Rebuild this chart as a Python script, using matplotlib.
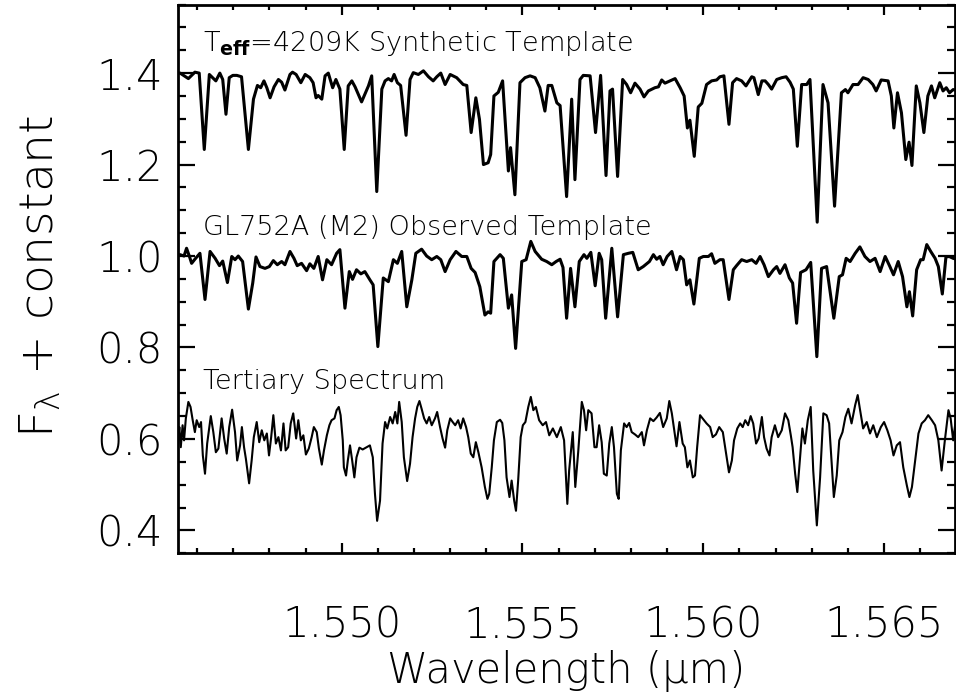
import numpy as np
import matplotlib
matplotlib.use("Agg")
import matplotlib.pyplot as plt
from matplotlib.ticker import MultipleLocator, FormatStrFormatter


# wavelength (micron), flux + offset
synthetic = [
    (1.54547, 1.400), (1.54553, 1.400), (1.54576, 1.388), (1.54594, 1.402), (1.54606, 1.400),
    (1.54620, 1.233), (1.54634, 1.397), (1.54643, 1.390), (1.54652, 1.383), (1.54663, 1.400),
    (1.54671, 1.386), (1.54680, 1.310), (1.54689, 1.390), (1.54699, 1.395), (1.54710, 1.395),
    (1.54723, 1.392), (1.54742, 1.233), (1.54756, 1.343), (1.54767, 1.373), (1.54776, 1.368),
    (1.54785, 1.383), (1.54793, 1.368), (1.54802, 1.346), (1.54813, 1.370), (1.54825, 1.386),
    (1.54834, 1.380), (1.54843, 1.363), (1.54857, 1.397), (1.54864, 1.402), (1.54874, 1.397),
    (1.54887, 1.379), (1.54899, 1.397), (1.54912, 1.390), (1.54921, 1.379), (1.54929, 1.346),
    (1.54935, 1.351), (1.54945, 1.343), (1.54954, 1.394), (1.54963, 1.400), (1.54975, 1.368),
    (1.54984, 1.386), (1.54995, 1.365), (1.55007, 1.233), (1.55018, 1.372), (1.55028, 1.383),
    (1.55037, 1.370), (1.55055, 1.337), (1.55074, 1.372), (1.55083, 1.394), (1.55097, 1.141),
    (1.55111, 1.365), (1.55120, 1.383), (1.55129, 1.388), (1.55138, 1.383), (1.55145, 1.397),
    (1.55154, 1.379), (1.55163, 1.373), (1.55178, 1.264), (1.55189, 1.386), (1.55198, 1.401),
    (1.55212, 1.397), (1.55226, 1.405), (1.55240, 1.392), (1.55253, 1.383), (1.55263, 1.392),
    (1.55274, 1.400), (1.55286, 1.375), (1.55300, 1.397), (1.55318, 1.390), (1.55336, 1.375),
    (1.55346, 1.373), (1.55358, 1.270), (1.55371, 1.346), (1.55381, 1.299), (1.55392, 1.200),
    (1.55405, 1.204), (1.55412, 1.222), (1.55421, 1.350), (1.55433, 1.358), (1.55445, 1.383),
    (1.55461, 1.186), (1.55467, 1.237), (1.55479, 1.134), (1.55493, 1.379), (1.55507, 1.390),
    (1.55521, 1.394), (1.55535, 1.390), (1.55548, 1.368), (1.55562, 1.317), (1.55571, 1.373),
    (1.55581, 1.373), (1.55595, 1.335), (1.55604, 1.329), (1.55622, 1.130), (1.55636, 1.343),
    (1.55645, 1.167), (1.55659, 1.386), (1.55668, 1.395), (1.55687, 1.394), (1.55702, 1.270),
    (1.55716, 1.395), (1.55731, 1.176), (1.55742, 1.361), (1.55749, 1.365), (1.55763, 1.174),
    (1.55777, 1.386), (1.55788, 1.375), (1.55799, 1.357), (1.55811, 1.378), (1.55825, 1.365),
    (1.55836, 1.348), (1.55848, 1.361), (1.55866, 1.368), (1.55876, 1.370), (1.55885, 1.385),
    (1.55894, 1.378), (1.55908, 1.383), (1.55922, 1.388), (1.55936, 1.368), (1.55947, 1.350),
    (1.55956, 1.280), (1.55963, 1.297), (1.55975, 1.218), (1.55986, 1.326), (1.55996, 1.334),
    (1.56009, 1.375), (1.56023, 1.383), (1.56037, 1.385), (1.56046, 1.392), (1.56057, 1.394),
    (1.56071, 1.288), (1.56081, 1.379), (1.56092, 1.388), (1.56106, 1.383), (1.56118, 1.372),
    (1.56134, 1.392), (1.56140, 1.390), (1.56152, 1.353), (1.56162, 1.383), (1.56171, 1.383),
    (1.56180, 1.375), (1.56189, 1.365), (1.56203, 1.386), (1.56217, 1.390), (1.56229, 1.392),
    (1.56240, 1.380), (1.56249, 1.365), (1.56260, 1.240), (1.56272, 1.375), (1.56286, 1.375),
    (1.56295, 1.386), (1.56315, 1.074), (1.56331, 1.375), (1.56345, 1.335), (1.56363, 1.109),
    (1.56382, 1.357), (1.56393, 1.364), (1.56400, 1.357), (1.56414, 1.375), (1.56428, 1.375),
    (1.56442, 1.390), (1.56456, 1.386), (1.56469, 1.375), (1.56478, 1.361), (1.56492, 1.385),
    (1.56511, 1.383), (1.56520, 1.350), (1.56527, 1.280), (1.56537, 1.357), (1.56548, 1.313),
    (1.56560, 1.211), (1.56569, 1.249), (1.56577, 1.198), (1.56589, 1.372), (1.56599, 1.335),
    (1.56610, 1.270), (1.56621, 1.350), (1.56631, 1.372), (1.56640, 1.346), (1.56654, 1.379),
    (1.56663, 1.361), (1.56672, 1.368), (1.56681, 1.357), (1.56691, 1.364), (1.56700, 1.362),
]

observed = [
    (1.54547, 1.000), (1.54553, 1.003), (1.54564, 1.000), (1.54571, 1.017), (1.54579, 0.999),
    (1.54585, 0.984), (1.54594, 0.993), (1.54608, 1.006), (1.54622, 0.905), (1.54636, 1.010),
    (1.54650, 0.995), (1.54662, 0.979), (1.54671, 0.989), (1.54684, 0.942), (1.54696, 0.999),
    (1.54705, 0.992), (1.54714, 1.000), (1.54726, 0.988), (1.54742, 0.884), (1.54754, 0.941),
    (1.54763, 0.998), (1.54774, 0.977), (1.54788, 0.973), (1.54800, 0.977), (1.54811, 0.990),
    (1.54822, 0.981), (1.54834, 0.988), (1.54843, 0.981), (1.54857, 1.010), (1.54868, 0.995),
    (1.54877, 0.979), (1.54889, 0.984), (1.54903, 0.968), (1.54912, 0.983), (1.54923, 0.973),
    (1.54935, 0.999), (1.54947, 0.948), (1.54959, 0.992), (1.54972, 0.981), (1.54986, 1.006),
    (1.54995, 1.014), (1.55009, 0.886), (1.55021, 0.966), (1.55030, 0.949), (1.55041, 0.970),
    (1.55053, 0.961), (1.55064, 0.966), (1.55078, 0.948), (1.55087, 0.937), (1.55100, 0.802),
    (1.55115, 0.952), (1.55129, 0.944), (1.55143, 0.992), (1.55154, 0.984), (1.55166, 1.010),
    (1.55180, 0.889), (1.55194, 0.948), (1.55205, 1.006), (1.55221, 1.015), (1.55235, 1.000),
    (1.55249, 0.992), (1.55263, 0.999), (1.55274, 0.992), (1.55286, 0.966), (1.55300, 0.992),
    (1.55316, 1.010), (1.55332, 0.999), (1.55346, 0.999), (1.55358, 0.973), (1.55369, 0.964),
    (1.55382, 0.933), (1.55396, 0.871), (1.55405, 0.878), (1.55412, 0.875), (1.55421, 0.988),
    (1.55438, 1.003), (1.55447, 0.995), (1.55461, 0.886), (1.55470, 0.915), (1.55481, 0.798),
    (1.55498, 0.988), (1.55510, 0.992), (1.55523, 1.032), (1.55535, 1.010), (1.55553, 0.993),
    (1.55567, 0.988), (1.55581, 0.981), (1.55593, 0.988), (1.55604, 0.993), (1.55612, 0.975),
    (1.55622, 0.864), (1.55633, 0.973), (1.55645, 0.889), (1.55657, 0.988), (1.55670, 1.003),
    (1.55678, 0.995), (1.55689, 1.008), (1.55701, 0.935), (1.55712, 1.006), (1.55719, 0.992),
    (1.55730, 0.864), (1.55747, 1.017), (1.55763, 0.867), (1.55779, 1.003), (1.55793, 1.006),
    (1.55805, 1.008), (1.55820, 0.970), (1.55834, 0.977), (1.55851, 0.988), (1.55862, 1.003),
    (1.55871, 0.993), (1.55880, 0.999), (1.55889, 0.981), (1.55900, 0.999), (1.55913, 1.010),
    (1.55926, 0.970), (1.55936, 0.999), (1.55945, 0.992), (1.55954, 0.937), (1.55963, 0.948),
    (1.55974, 0.895), (1.55989, 0.995), (1.56000, 0.999), (1.56014, 0.999), (1.56023, 1.005),
    (1.56032, 0.984), (1.56046, 0.992), (1.56055, 0.992), (1.56071, 0.905), (1.56083, 0.970),
    (1.56092, 0.979), (1.56106, 0.992), (1.56120, 0.988), (1.56134, 0.992), (1.56146, 0.984),
    (1.56157, 0.999), (1.56168, 0.981), (1.56180, 0.955), (1.56194, 0.970), (1.56203, 0.977),
    (1.56212, 0.962), (1.56226, 0.981), (1.56238, 0.952), (1.56247, 0.941), (1.56258, 0.853),
    (1.56269, 0.964), (1.56284, 0.970), (1.56297, 0.986), (1.56314, 0.780), (1.56327, 0.973),
    (1.56341, 0.977), (1.56361, 0.864), (1.56376, 0.955), (1.56385, 0.959), (1.56395, 0.995),
    (1.56406, 0.988), (1.56420, 1.006), (1.56433, 1.020), (1.56447, 0.999), (1.56461, 0.988),
    (1.56475, 0.995), (1.56489, 0.966), (1.56503, 0.999), (1.56516, 0.977), (1.56526, 0.959),
    (1.56539, 0.988), (1.56551, 0.955), (1.56563, 0.889), (1.56570, 0.922), (1.56579, 0.869),
    (1.56590, 0.970), (1.56601, 0.992), (1.56608, 0.992), (1.56618, 1.025), (1.56629, 1.010),
    (1.56641, 0.995), (1.56650, 0.977), (1.56661, 0.917), (1.56671, 0.998), (1.56680, 0.999),
    (1.56691, 0.995), (1.56700, 0.993),
]

tertiary = [
    (1.54549, 0.610), (1.54551, 0.626), (1.54555, 0.582), (1.54560, 0.630), (1.54564, 0.597),
    (1.54569, 0.645), (1.54576, 0.681), (1.54582, 0.670), (1.54588, 0.641), (1.54594, 0.615),
    (1.54599, 0.641), (1.54606, 0.626), (1.54611, 0.637), (1.54616, 0.564), (1.54622, 0.524),
    (1.54628, 0.590), (1.54638, 0.650), (1.54645, 0.615), (1.54652, 0.571), (1.54659, 0.579),
    (1.54668, 0.645), (1.54675, 0.601), (1.54682, 0.568), (1.54689, 0.626), (1.54697, 0.664),
    (1.54705, 0.615), (1.54711, 0.553), (1.54719, 0.586), (1.54724, 0.626), (1.54730, 0.582),
    (1.54735, 0.557), (1.54744, 0.503), (1.54751, 0.553), (1.54757, 0.604), (1.54765, 0.637),
    (1.54772, 0.593), (1.54779, 0.619), (1.54786, 0.597), (1.54793, 0.612), (1.54799, 0.564),
    (1.54805, 0.604), (1.54811, 0.652), (1.54818, 0.590), (1.54825, 0.604), (1.54832, 0.575),
    (1.54839, 0.634), (1.54845, 0.575), (1.54852, 0.582), (1.54859, 0.634), (1.54866, 0.656),
    (1.54874, 0.601), (1.54880, 0.641), (1.54887, 0.597), (1.54894, 0.608), (1.54901, 0.566),
    (1.54909, 0.579), (1.54917, 0.604), (1.54923, 0.626), (1.54931, 0.615), (1.54937, 0.579),
    (1.54945, 0.544), (1.54951, 0.575), (1.54959, 0.608), (1.54966, 0.630), (1.54972, 0.641),
    (1.54980, 0.645), (1.54986, 0.663), (1.54992, 0.670), (1.54997, 0.652), (1.55003, 0.597),
    (1.55006, 0.538), (1.55012, 0.520), (1.55017, 0.553), (1.55023, 0.586), (1.55029, 0.553),
    (1.55035, 0.516), (1.55041, 0.560), (1.55049, 0.581), (1.55058, 0.577), (1.55069, 0.582),
    (1.55078, 0.586), (1.55086, 0.560), (1.55092, 0.480), (1.55098, 0.421), (1.55106, 0.465),
    (1.55113, 0.590), (1.55120, 0.637), (1.55126, 0.623), (1.55134, 0.648), (1.55141, 0.634),
    (1.55148, 0.659), (1.55154, 0.634), (1.55159, 0.681), (1.55166, 0.637), (1.55172, 0.560),
    (1.55181, 0.508), (1.55189, 0.546), (1.55196, 0.604), (1.55203, 0.645), (1.55209, 0.670),
    (1.55215, 0.683), (1.55221, 0.666), (1.55228, 0.645), (1.55235, 0.634), (1.55242, 0.648),
    (1.55249, 0.630), (1.55258, 0.645), (1.55264, 0.659), (1.55272, 0.626), (1.55279, 0.601),
    (1.55286, 0.581), (1.55292, 0.619), (1.55300, 0.645), (1.55307, 0.637), (1.55314, 0.630),
    (1.55322, 0.641), (1.55329, 0.623), (1.55336, 0.645), (1.55344, 0.626), (1.55350, 0.604),
    (1.55357, 0.568), (1.55364, 0.560), (1.55371, 0.593), (1.55378, 0.571), (1.55387, 0.538),
    (1.55396, 0.495), (1.55403, 0.469), (1.55408, 0.480), (1.55415, 0.538), (1.55421, 0.597),
    (1.55429, 0.637), (1.55438, 0.642), (1.55444, 0.635), (1.55450, 0.597), (1.55456, 0.516),
    (1.55464, 0.473), (1.55470, 0.509), (1.55477, 0.465), (1.55482, 0.443), (1.55488, 0.509),
    (1.55495, 0.604), (1.55501, 0.630), (1.55508, 0.637), (1.55516, 0.670), (1.55523, 0.692),
    (1.55530, 0.663), (1.55537, 0.670), (1.55546, 0.641), (1.55556, 0.630), (1.55565, 0.637),
    (1.55574, 0.608), (1.55584, 0.623), (1.55595, 0.604), (1.55606, 0.626), (1.55615, 0.597),
    (1.55624, 0.458), (1.55629, 0.531), (1.55639, 0.615), (1.55646, 0.495), (1.55654, 0.571),
    (1.55664, 0.681), (1.55670, 0.663), (1.55676, 0.619), (1.55682, 0.663), (1.55691, 0.656),
    (1.55699, 0.582), (1.55705, 0.582), (1.55712, 0.630), (1.55719, 0.593), (1.55725, 0.524),
    (1.55733, 0.520), (1.55740, 0.590), (1.55747, 0.626), (1.55753, 0.582), (1.55761, 0.480),
    (1.55766, 0.469), (1.55772, 0.575), (1.55781, 0.634), (1.55788, 0.626), (1.55795, 0.635),
    (1.55802, 0.615), (1.55811, 0.610), (1.55820, 0.604), (1.55830, 0.615), (1.55836, 0.586),
    (1.55844, 0.619), (1.55853, 0.645), (1.55862, 0.639), (1.55871, 0.647), (1.55880, 0.657),
    (1.55889, 0.626), (1.55899, 0.645), (1.55906, 0.683), (1.55913, 0.656), (1.55919, 0.623),
    (1.55926, 0.584), (1.55934, 0.637), (1.55943, 0.590), (1.55949, 0.582), (1.55956, 0.538),
    (1.55963, 0.553), (1.55971, 0.516), (1.55977, 0.520), (1.55983, 0.582), (1.55991, 0.652),
    (1.55998, 0.645), (1.56009, 0.634), (1.56019, 0.626), (1.56026, 0.604), (1.56035, 0.610),
    (1.56044, 0.626), (1.56054, 0.615), (1.56063, 0.568), (1.56071, 0.527), (1.56079, 0.553),
    (1.56085, 0.597), (1.56094, 0.623), (1.56102, 0.634), (1.56109, 0.626), (1.56116, 0.641),
    (1.56124, 0.630), (1.56131, 0.650), (1.56138, 0.634), (1.56146, 0.590), (1.56153, 0.601),
    (1.56162, 0.648), (1.56168, 0.604), (1.56175, 0.579), (1.56183, 0.564), (1.56189, 0.604),
    (1.56198, 0.630), (1.56207, 0.604), (1.56217, 0.619), (1.56226, 0.656), (1.56235, 0.641),
    (1.56242, 0.608), (1.56247, 0.582), (1.56254, 0.524), (1.56260, 0.484), (1.56267, 0.553),
    (1.56274, 0.623), (1.56281, 0.590), (1.56289, 0.641), (1.56297, 0.670), (1.56304, 0.531),
    (1.56314, 0.411), (1.56323, 0.516), (1.56332, 0.656), (1.56341, 0.652), (1.56348, 0.634),
    (1.56355, 0.549), (1.56361, 0.473), (1.56369, 0.520), (1.56376, 0.597), (1.56385, 0.615),
    (1.56393, 0.648), (1.56401, 0.666), (1.56410, 0.634), (1.56420, 0.674), (1.56427, 0.696),
    (1.56433, 0.666), (1.56442, 0.623), (1.56452, 0.637), (1.56461, 0.612), (1.56470, 0.630),
    (1.56480, 0.604), (1.56491, 0.626), (1.56500, 0.637), (1.56509, 0.619), (1.56518, 0.597),
    (1.56526, 0.564), (1.56535, 0.586), (1.56544, 0.593), (1.56553, 0.538), (1.56563, 0.498),
    (1.56570, 0.473), (1.56577, 0.495), (1.56586, 0.553), (1.56595, 0.612), (1.56604, 0.634),
    (1.56613, 0.641), (1.56622, 0.652), (1.56632, 0.641), (1.56641, 0.630), (1.56650, 0.597),
    (1.56659, 0.531), (1.56668, 0.597), (1.56678, 0.663), (1.56684, 0.645), (1.56691, 0.597),
    (1.56700, 0.652),
]

labels = [r"T$_{\mathbf{eff}}$=4209K Synthetic Template",
          "GL752A (M2) Observed Template",
          "Tertiary Spectrum"]
label_y = [1.4485, 1.0465, 0.7083]

XLIM = (1.545465, 1.566969)
YLIM = (0.35, 1.55)

plt.rcParams["font.family"] = ["DejaVu Sans"]
plt.rcParams["font.weight"] = 200
plt.rcParams["axes.labelweight"] = 200
plt.rcParams["mathtext.fontset"] = "custom"
plt.rcParams["mathtext.rm"] = "DejaVu Sans:weight=200"
plt.rcParams["mathtext.it"] = "DejaVu Sans:italic"
plt.rcParams["mathtext.bf"] = "DejaVu Sans:bold"

fig = plt.figure(figsize=(9.56, 6.96), dpi=100)
ax = fig.add_axes([177.7 / 956, 1 - 553.3 / 696, 777.6 / 956, 548.8 / 696])

for data, lw in [(synthetic, 2.2), (observed, 2.2), (tertiary, 1.5)]:
    w, f = np.array(data).T
    ax.plot(w, f, color="black", lw=lw)

for txt, y in zip(labels, label_y):
    ax.text(1.54617, y, txt, fontsize=19.5, va="baseline", ha="left")

ax.set_xlim(*XLIM)
ax.set_ylim(*YLIM)

ax.xaxis.set_major_locator(MultipleLocator(0.005))
ax.xaxis.set_minor_locator(MultipleLocator(0.001))
ax.xaxis.set_major_formatter(FormatStrFormatter("%.3f"))
ax.yaxis.set_major_locator(MultipleLocator(0.2))
ax.yaxis.set_minor_locator(MultipleLocator(0.05))
ax.yaxis.set_major_formatter(FormatStrFormatter("%.1f"))

ax.tick_params(axis="both", which="both", direction="in", top=True, right=True,
               width=1.6, labelsize=30)
ax.tick_params(axis="x", which="major", length=7.5, pad=37)
ax.tick_params(axis="x", which="minor", length=3.5)
ax.tick_params(axis="y", which="major", length=12, pad=11)
ax.tick_params(axis="y", which="minor", length=6)
for s in ax.spines.values():
    s.set_linewidth(2)

ax.set_xlabel("Wavelength (\u03bcm)", fontsize=30)
ax.set_ylabel(r"F$_\mathrm{\lambda}$ + constant", fontsize=34)
ax.xaxis.set_label_coords(0.5, -0.176)
ax.yaxis.set_label_coords(-0.148, 0.505)

fig.savefig("out.png", dpi=100)
